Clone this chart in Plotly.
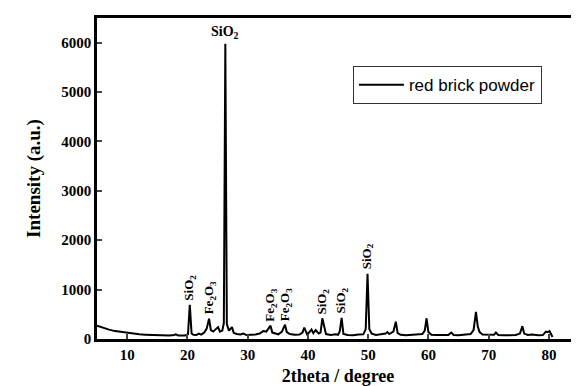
import plotly.graph_objects as go

two_theta = [5.0, 6.0, 7.0, 8.0, 9.0, 10.0, 11.0, 12.0, 13.0, 14.0, 15.0, 16.0, 17.0, 17.8, 18.1, 18.5, 19.0, 19.6,
             20.1, 20.4, 20.7, 21.0, 21.5, 21.9, 22.3, 22.8, 23.2, 23.6, 23.9, 24.3, 24.8, 25.1, 25.4, 25.8,
             26.05, 26.3, 26.55, 26.9, 27.4, 27.7, 28.2, 28.8, 29.3, 29.8, 30.5, 31.3, 32.0, 32.6, 33.1, 33.8,
             34.1, 34.6, 35.1, 35.7, 36.2, 36.5, 37.0, 37.8, 38.6, 39.1, 39.4, 39.9, 40.6, 40.9, 41.3, 41.8,
             42.1, 42.4, 43.0, 43.8, 44.6, 45.0, 45.3, 45.6, 45.9, 46.6, 47.5, 48.4, 49.2, 49.6, 49.9, 50.2,
             50.6, 51.3, 52.2, 52.9, 53.2, 53.5, 54.2, 54.6, 54.9, 55.4, 56.3, 57.2, 58.2, 59.0, 59.4, 59.7,
             60.0, 60.5, 61.3, 62.3, 63.3, 63.8, 64.2, 65.0, 66.0, 67.0, 67.5, 67.9, 68.2, 68.5, 69.0, 70.0,
             70.9, 71.2, 71.6, 72.5, 73.5, 74.5, 75.2, 75.6, 75.9, 76.5, 77.2, 77.6, 78.2, 79.0, 79.5, 79.8,
             80.1, 80.4, 80.6]
intensity = [270, 225, 190, 160, 140, 120, 105, 95, 88, 80, 75, 72, 70, 80, 95, 70, 65, 72,
             95, 690, 110, 85, 80, 110, 90, 130, 210, 410, 180, 150, 210, 240, 150, 170,
             320, 5980, 300, 170, 240, 120, 100, 90, 110, 80, 85, 90, 110, 160, 150, 270,
             130, 110, 95, 150, 290, 140, 100, 85, 90, 130, 230, 90, 190, 120, 180, 110,
             130, 420, 100, 80, 95, 85, 160, 430, 100, 80, 75, 90, 95, 200, 1320, 200,
             110, 80, 90, 110, 140, 100, 150, 350, 120, 85, 75, 80, 95, 100, 170, 420,
             140, 85, 80, 75, 80, 130, 80, 75, 80, 100, 180, 550, 250, 140, 90, 80,
             85, 130, 80, 75, 85, 80, 110, 260, 110, 80, 90, 80, 75, 80, 150, 140,
             160, 90, 40]

label_x = [20.4, 23.6, 33.8, 36.2, 42.4, 45.6, 49.9]
label_y = [690, 410, 270, 290, 420, 430, 1320]
label_text = ["SiO<sub>2</sub>", "Fe<sub>2</sub>O<sub>3</sub>", "Fe<sub>2</sub>O<sub>3</sub>",
              "Fe<sub>2</sub>O<sub>3</sub>", "SiO<sub>2</sub>", "SiO<sub>2</sub>", "SiO<sub>2</sub>"]
main_x, main_y, main_text = 26.3, 5980, "SiO<sub>2</sub>"

x_ticks = [10, 20, 30, 40, 50, 60, 70, 80]
y_ticks = [0, 1000, 2000, 3000, 4000, 5000, 6000]

serif = "Liberation Serif"

fig = go.Figure()
fig.add_trace(go.Scatter(x=two_theta, y=intensity, mode="lines",
                         line=dict(color="black", width=2), name="red brick powder"))

for x, y, t in zip(label_x, label_y, label_text):
    fig.add_annotation(x=x, y=y, text="<b>" + t + "</b>", textangle=-90, showarrow=False,
                       xanchor="center", yanchor="bottom", yshift=2,
                       font=dict(family=serif, size=13, color="black"))
fig.add_annotation(x=main_x, y=main_y, text="<b>" + main_text + "</b>", showarrow=False,
                   xanchor="center", yanchor="bottom", yshift=1,
                   font=dict(family=serif, size=14, color="black"))

# the page body adds an 8px margin, so the figure is sized to fit the 579x386 window
fig.update_layout(
    width=571, height=378,
    margin=dict(l=89, r=0, t=10, b=47),
    paper_bgcolor="white", plot_bgcolor="white",
    showlegend=True,
    legend=dict(x=0.531, y=0.85, xanchor="left", yanchor="top",
                bordercolor="#333", borderwidth=1, bgcolor="white",
                font=dict(family="Liberation Sans", size=17, color="black"),
                itemwidth=45, tracegroupgap=0),
    xaxis=dict(range=[5, 85], tickvals=x_ticks, ticks="inside", ticklen=5, tickwidth=2,
               showline=True, linecolor="black", linewidth=2.5, mirror=True,
               showgrid=False, zeroline=False,
               tickfont=dict(family=serif, size=15, color="black", weight="bold"),
               title=dict(text="<b>2theta / degree</b>", standoff=10,
                          font=dict(family=serif, size=18, color="black"))),
    yaxis=dict(range=[0, 6500], tickvals=y_ticks, ticks="inside", ticklen=5, tickwidth=2,
               showline=True, linecolor="black", linewidth=2.5,
               showgrid=False, zeroline=False,
               tickfont=dict(family=serif, size=15, color="black", weight="bold"),
               title=dict(text="<b>Intensity (a.u.)</b>", standoff=16,
                          font=dict(family=serif, size=19, color="black"))),
)

fig.write_html("out.html")
